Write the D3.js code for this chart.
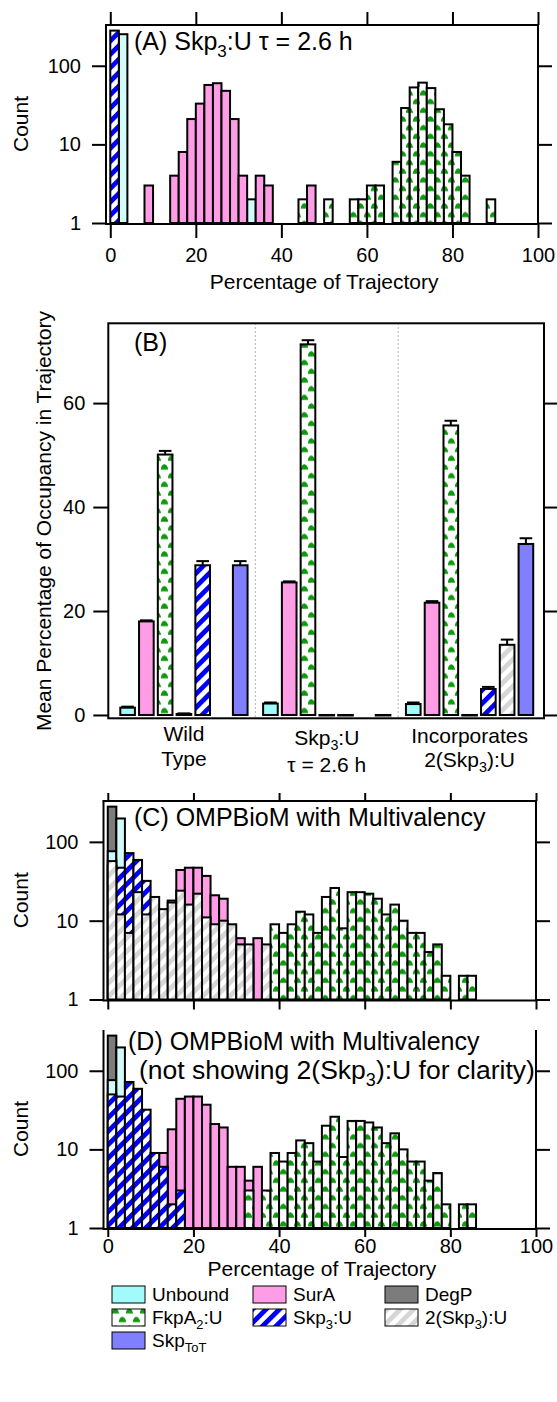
<!DOCTYPE html>
<html>
<head>
<meta charset="utf-8">
<script src="https://cdn.jsdelivr.net/npm/d3@7"></script>
<style>
  html, body { margin: 0; padding: 0; background: #fff; }
  svg text { font-family: "Liberation Sans", Arial, Helvetica, sans-serif; fill: #000; }
</style>
</head>
<body>
<svg id="chart" width="557" height="1402"></svg>
<script>
// ---- data -------------------------------------------------------------
// histograms: [bin start (% of trajectory), count], bin width 2
const binWidth = 2;

// (A) Skp3:U tau = 2.6 h model
const histA_Skp3U = [[0, 280]];
const histA_Unbound = [[2, 252], [32, 2]];
const histA_SurA = [[8, 3], [14, 4], [16, 8], [18, 21], [20, 33], [22, 57], [24, 60], [26, 48],
  [28, 21], [30, 4], [34, 4], [36, 3], [46, 3]];
const histA_FkpA = [[44, 2], [50, 2], [56, 2], [58, 2], [60, 3], [62, 3], [66, 6], [68, 29],
  [70, 53], [72, 61], [74, 52], [76, 28], [78, 18], [80, 8], [82, 4], [88, 2]];

// (C)/(D) OMPBioM with multivalency
const histM_DegP = [[0, 280]];
const histM_Unbound = [[0, 76], [2, 198]];
const histM_SurA = [[12, 9], [14, 18], [16, 44], [18, 47], [20, 47], [22, 37], [24, 21], [26, 19],
  [28, 6], [30, 6], [32, 4], [34, 6]];
const histM_Skp3U = [[0, 50], [2, 47], [4, 72], [6, 59], [8, 32], [10, 9], [12, 6], [14, 2], [16, 3]];
const histM_FkpA = [[32, 3], [36, 3], [38, 9], [40, 7], [42, 9], [44, 13], [46, 12], [48, 7], [50, 20],
  [52, 26], [54, 8], [56, 23], [58, 23], [60, 22], [62, 19], [64, 12], [66, 16], [68, 10], [70, 7],
  [72, 7], [74, 4], [76, 5], [78, 2], [82, 2], [84, 2]];
const histM_2Skp3U = [[0, 57], [2, 12], [4, 7], [6, 23], [8, 12], [10, 20], [12, 14], [14, 17], [16, 24],
  [18, 16], [20, 22], [22, 11], [24, 9], [26, 10], [28, 9], [30, 5], [32, 5], [36, 5]];

// (B) mean percentage of occupancy
const occCategories = ["Unbound", "SurA", "FkpA", "DegP", "Skp3U", "Skp3U2", "SkpToT"];
const occGroups = ["wild", "skp", "multi"];
const occMeanWild = [1.4, 18.0, 50.1, 0.2, 28.8, null, 28.8];
const occErrWild = [0.2, 0.2, 0.7, 0.1, 0.8, null, 0.8];
const occMeanSkp = [2.2, 25.5, 71.3, 0, 0, null, 0];
const occErrSkp = [0.2, 0.2, 0.8, 0, 0, null, 0];
const occMeanMulti = [2.1, 21.6, 55.7, 0, 5.0, 13.5, 32.9];
const occErrMulti = [0.3, 0.3, 0.9, 0, 0.4, 1.0, 1.1];

const xTicks = [0, 20, 40, 60, 80, 100];
const yLogTicks = [1, 10, 100];
const yLinTicks = [0, 20, 40, 60];

// ---- styles -----------------------------------------------------------
const style = {
  Unbound: { fill: "#d2fcfc", barFill: "#a2fbfb", label: "Unbound" },
  SurA: { fill: "#ff9ce6", label: "SurA" },
  DegP: { fill: "#7c7c7c", label: "DegP" },
  FkpA: { fill: "url(#pat-fkpa)", label: "FkpA_{2}:U" },
  Skp3U: { fill: "url(#pat-skp3)", label: "Skp_{3}:U" },
  Skp3U2: { fill: "url(#pat-skp3x2)", label: "2(Skp_{3}):U" },
  SkpToT: { fill: "#8080ff", label: "Skp_{ToT}" }
};
const FONT_TICK = 20, FONT_LABEL = 21, FONT_TITLE = 25, FONT_LEG = 19;

const svg = d3.select("#chart");
const defs = svg.append("defs");

// diagonal stripes "/"
function stripes(id, color, period, width) {
  const p = defs.append("pattern").attr("id", id)
    .attr("patternUnits", "userSpaceOnUse")
    .attr("width", period).attr("height", period)
    .attr("patternTransform", "rotate(45)");
  p.append("rect").attr("width", period).attr("height", period).attr("fill", "#fff");
  p.append("rect").attr("width", width).attr("height", period).attr("fill", color);
}
stripes("pat-skp3", "#0000ff", 9.5, 4.8);
stripes("pat-skp3x2", "#d6d6d6", 9.5, 4.8);

// green "hills" pattern for FkpA2:U
{
  const w = 14, h = 17.4;
  const p = defs.append("pattern").attr("id", "pat-fkpa")
    .attr("patternUnits", "userSpaceOnUse").attr("width", w).attr("height", h);
  p.append("rect").attr("width", w).attr("height", h).attr("fill", "#fff");
  const hill = (cx, by) => `M${cx - 3.8},${by} Q${cx - 3},${by - 5.4} ${cx + 0.4},${by - 5.2} Q${cx + 3.4},${by - 3.6} ${cx + 3.8},${by} Z`;
  p.append("path").attr("d", hill(3.5, 8.4)).attr("fill", "#0a9a0a");
  p.append("path").attr("d", hill(10.5, 17.1)).attr("fill", "#0a9a0a");
}

// text with _{sub} parts
function rich(sel, str, fs) {
  const parts = str.split(/(_\{[^}]*\})/).filter(s => s.length);
  let shifted = false;
  parts.forEach(s => {
    if (s.startsWith("_{")) {
      sel.append("tspan").attr("font-size", fs * 0.68).attr("dy", fs * 0.26).text(s.slice(2, -1));
      shifted = true;
    } else {
      const t = sel.append("tspan").text(s);
      if (shifted) { t.attr("dy", -fs * 0.26); shifted = false; }
    }
  });
  return sel;
}

function styleAxis(g, fs) {
  g.select(".domain").remove();
  g.selectAll(".tick line").attr("stroke", "#000").attr("stroke-width", 2);
  g.selectAll(".tick text").attr("font-size", fs)
    .attr("font-family", "Liberation Sans, Arial, sans-serif").attr("fill", "#000");
}

// ---- histogram panels -------------------------------------------------
function drawHist(p) {
  const g = svg.append("g");
  const x = d3.scaleLinear().domain([-1, 100]).range([p.left, p.right]);
  const y = d3.scaleLog().domain([1, 330]).range([p.bottom, p.top]);

  p.series.forEach(s => {
    g.append("g").selectAll("rect").data(s.data).join("rect")
      .attr("x", d => x(d[0]))
      .attr("width", d => x(d[0] + binWidth) - x(d[0]))
      .attr("y", d => y(d[1]))
      .attr("height", d => y(1) - y(d[1]))
      .attr("fill", style[s.key].fill)
      .attr("stroke", "#000").attr("stroke-width", 2);
  });

  // frame
  const fr = g.append("g").attr("stroke", "#000").attr("stroke-width", 2).attr("fill", "none");
  fr.append("line").attr("x1", p.left).attr("x2", p.left).attr("y1", p.top).attr("y2", p.bottom + 1);
  fr.append("line").attr("x1", p.right).attr("x2", p.right).attr("y1", p.top).attr("y2", p.bottom + 1);
  fr.append("line").attr("x1", p.left - 1).attr("x2", p.right + 1).attr("y1", p.bottom + 1).attr("y2", p.bottom + 1);
  if (p.topLine) fr.append("line").attr("x1", p.left - 1).attr("x2", p.right + 1).attr("y1", p.top).attr("y2", p.top);

  // axes
  const ax = g.append("g").attr("transform", `translate(${p.left},0)`)
    .call(d3.axisLeft(y).tickValues(yLogTicks).tickFormat(d3.format("d")).tickSize(14).tickPadding(11));
  styleAxis(ax, FONT_TICK);
  const axr = g.append("g").attr("transform", `translate(${p.right},0)`)
    .call(d3.axisRight(y).tickValues(yLogTicks).tickFormat("").tickSize(14));
  styleAxis(axr, FONT_TICK);
  const axb = g.append("g").attr("transform", `translate(0,${p.bottom + 1})`)
    .call(d3.axisBottom(x).tickValues(xTicks).tickFormat(p.xLabels ? d3.format("d") : "")
      .tickSize(p.tickB).tickPadding(p.padB || 10));
  styleAxis(axb, FONT_TICK);
  if (p.topLine) {
    const axt = g.append("g").attr("transform", `translate(0,${p.top})`)
      .call(d3.axisTop(x).tickValues(xTicks).tickFormat("").tickSize(p.tickT));
    styleAxis(axt, FONT_TICK);
  }

  g.append("text").attr("transform", `translate(${p.yLabelX},${(p.top + p.bottom) / 2}) rotate(-90)`)
    .attr("text-anchor", "middle").attr("font-size", FONT_LABEL).text("Count");
  if (p.xLabel) {
    g.append("text").attr("x", (x(0) + x(100)) / 2).attr("y", p.xLabelY)
      .attr("text-anchor", "middle").attr("font-size", FONT_LABEL).text("Percentage of Trajectory");
  }
  p.titles.forEach(t => rich(g.append("text").attr("x", t.x).attr("y", t.y)
    .attr("font-size", t.fs || FONT_TITLE), t.text, t.fs || FONT_TITLE));
}

drawHist({
  left: 106, right: 538, top: 25, bottom: 223, topLine: true, tickT: 13, tickB: 14,
  xLabels: true, xLabel: true, xLabelY: 289, yLabelX: 28,
  series: [
    { key: "Unbound", data: histA_Unbound },
    { key: "SurA", data: histA_SurA },
    { key: "Skp3U", data: histA_Skp3U },
    { key: "FkpA", data: histA_FkpA }
  ],
  titles: [{ x: 134, y: 50, text: "(A)  Skp_{3}:U τ = 2.6 h" }]
});

const multiSeries = [
  { key: "DegP", data: histM_DegP },
  { key: "Unbound", data: histM_Unbound },
  { key: "SurA", data: histM_SurA },
  { key: "Skp3U", data: histM_Skp3U },
  { key: "FkpA", data: histM_FkpA }
];

drawHist({
  left: 103.5, right: 536, top: 801, bottom: 999.5, topLine: true, tickT: 8, tickB: 9,
  xLabels: false, xLabel: false, yLabelX: 28,
  series: multiSeries.concat([{ key: "Skp3U2", data: histM_2Skp3U }]),
  titles: [{ x: 134, y: 826, text: "(C) OMPBioM with Multivalency" }]
});

drawHist({
  left: 103.5, right: 536, top: 1030, bottom: 1228, topLine: false, tickB: 8, padB: 2,
  xLabels: true, xLabel: true, xLabelY: 1276, yLabelX: 28,
  series: multiSeries,
  titles: [
    { x: 128, y: 1050, text: "(D) OMPBioM with Multivalency" },
    { x: 139, y: 1079, text: "(not showing 2(Skp_{3}):U for clarity)", fs: 26.5 }
  ]
});

// ---- panel B: bar chart ----------------------------------------------
{
  const L = 108.3, R = 544, T = 323.3, B = 718.3;
  const g = svg.append("g");
  const y = d3.scaleLinear().domain([-0.64, 75.35]).range([B, T]);
  const x0 = d3.scaleBand().domain(occGroups).range([112.5, 541]).paddingInner(0.08).paddingOuter(0.04);
  const x1 = d3.scaleBand().domain(occCategories).range([0, x0.bandwidth()]).paddingInner(0.22).paddingOuter(0.11);
  const means = { wild: occMeanWild, skp: occMeanSkp, multi: occMeanMulti };
  const errs = { wild: occErrWild, skp: occErrSkp, multi: occErrMulti };
  const rows = [];
  occGroups.forEach(gr => occCategories.forEach((c, i) => {
    if (means[gr][i] != null) rows.push({ group: gr, cat: c, v: means[gr][i], e: errs[gr][i] });
  }));

  // separators
  const sepX = [x0("skp") - x0.step() * x0.paddingInner() / 2, x0("multi") - x0.step() * x0.paddingInner() / 2];
  g.selectAll("line.sep").data(sepX).join("line").attr("class", "sep")
    .attr("x1", d => d).attr("x2", d => d).attr("y1", T).attr("y2", B)
    .attr("stroke", "#999").attr("stroke-width", 1).attr("stroke-dasharray", "1.5,2.5");

  // error bars (upper half visible above bars)
  const eb = g.append("g").attr("stroke", "#000").attr("stroke-width", 2);
  rows.filter(d => d.e > 0.05).forEach(d => {
    const cx = x0(d.group) + x1(d.cat) + x1.bandwidth() / 2;
    eb.append("line").attr("x1", cx).attr("x2", cx).attr("y1", y(d.v)).attr("y2", y(d.v + d.e));
    eb.append("line").attr("x1", cx - x1.bandwidth() / 2 + 1).attr("x2", cx + x1.bandwidth() / 2 - 1)
      .attr("y1", y(d.v + d.e)).attr("y2", y(d.v + d.e));
  });

  g.append("g").selectAll("rect").data(rows).join("rect")
    .attr("x", d => x0(d.group) + x1(d.cat))
    .attr("width", x1.bandwidth())
    .attr("y", d => y(d.v))
    .attr("height", d => Math.max(0.5, y(0) - y(d.v)))
    .attr("fill", d => style[d.cat].barFill || style[d.cat].fill)
    .attr("stroke", "#000").attr("stroke-width", 2);

  g.append("rect").attr("x", L).attr("y", T).attr("width", R - L).attr("height", B - T)
    .attr("fill", "none").attr("stroke", "#000").attr("stroke-width", 2);

  const ax = g.append("g").attr("transform", `translate(${L},0)`)
    .call(d3.axisLeft(y).tickValues(yLinTicks).tickSize(15).tickPadding(8));
  styleAxis(ax, FONT_TICK);
  const axr = g.append("g").attr("transform", `translate(${R},0)`)
    .call(d3.axisRight(y).tickValues(yLinTicks).tickFormat("").tickSize(14));
  styleAxis(axr, FONT_TICK);

  g.append("text").attr("x", 134).attr("y", 351).attr("font-size", FONT_TITLE).text("(B)");
  g.append("text").attr("transform", `translate(51,${(305 + 737) / 2}) rotate(-90)`)
    .attr("text-anchor", "middle").attr("font-size", FONT_LABEL)
    .text("Mean Percentage of Occupancy in Trajectory");

  const groupLabels = { wild: ["Wild", "Type"], skp: ["Skp_{3}:U", "τ = 2.6 h"], multi: ["Incorporates", "2(Skp_{3}):U"] };
  const labelY = { wild: [741, 766], skp: [745, 772], multi: [743, 767] };
  occGroups.forEach(gr => {
    const cx = x0(gr) + x0.bandwidth() / 2;
    groupLabels[gr].forEach((ln, i) => {
      rich(g.append("text").attr("x", cx).attr("y", labelY[gr][i]).attr("text-anchor", "middle")
        .attr("font-size", FONT_LABEL), ln, FONT_LABEL);
    });
  });
}

// ---- legend -----------------------------------------------------------
{
  const legendRows = [["Unbound", "SurA", "DegP"], ["FkpA", "Skp3U", "Skp3U2"], ["SkpToT"]];
  const colX = [112, 253, 385];
  const g = svg.append("g");
  legendRows.forEach((row, r) => row.forEach((k, c) => {
    const yy = 1294 + r * 23;
    g.append("rect").attr("x", colX[c]).attr("y", yy - 8).attr("width", 33).attr("height", 17)
      .attr("fill", style[k].barFill || style[k].fill).attr("stroke", "#000").attr("stroke-width", 1);
    rich(g.append("text").attr("x", colX[c] + 40).attr("y", yy + 7).attr("font-size", FONT_LEG), style[k].label, FONT_LEG);
  }));
}
</script>
</body>
</html>
